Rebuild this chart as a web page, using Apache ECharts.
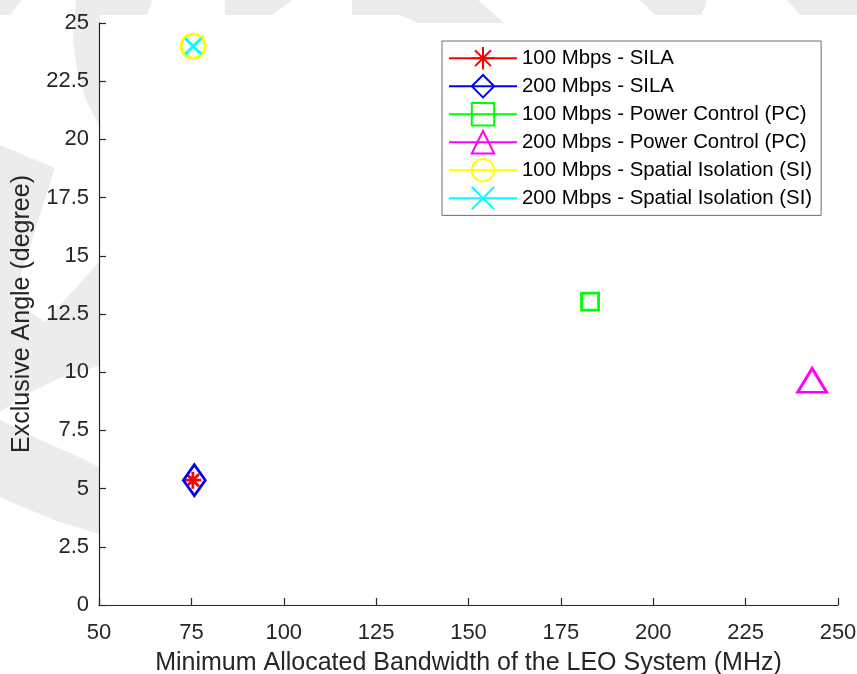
<!DOCTYPE html>
<html>
<head>
<meta charset="utf-8">
<script src="https://cdn.jsdelivr.net/npm/echarts@6/dist/echarts.min.js"></script>
<style>
  html, body { margin: 0; padding: 0; background: #fff; }
  #chart { width: 857px; height: 674px; }
</style>
</head>
<body>
<div id="chart"></div>
<script>
// Series names, in plotting order
const seriesNames = [
  '100 Mbps - SILA',
  '200 Mbps - SILA',
  '100 Mbps - Power Control (PC)',
  '200 Mbps - Power Control (PC)',
  '100 Mbps - Spatial Isolation (SI)',
  '200 Mbps - Spatial Isolation (SI)'
];
// Minimum allocated bandwidth (MHz) for each scheme
const bandwidthMHz = [75.4, 75.8, 182.9, 243.0, 75.5, 75.5];
// Exclusive angle (degree) for each scheme
const exclusiveAngle = [5.36, 5.36, 13.03, 9.65, 24.0, 24.0];
// Axis tick values
const xTicks = [50, 75, 100, 125, 150, 175, 200, 225, 250];
const yTicks = [0, 2.5, 5, 7.5, 10, 12.5, 15, 17.5, 20, 22.5, 25];

// Marker appearance per series
const colors = ['#ff0000', '#0000ff', '#00ff00', '#ff00ff', '#ffff00', '#00ffff'];
const STAR = 'path://M0,-10L0,10M-10,0L10,0M-7.1,-7.1L7.1,7.1M-7.1,7.1L7.1,-7.1';
const CROSS = 'path://M-10,-10L10,10M-10,10L10,-10';
const symbols = [STAR, 'diamond', 'rect', 'triangle', 'circle', CROSS];
const symbolSizes = [17, [22, 31], 17, [29, 24], 24, 16];

const textColor = '#262626';
const FONT = 'Liberation Sans, Arial, Helvetica, sans-serif';
const shade = '#ececec';

const series = seriesNames.map((name, i) => ({
  name: name,
  type: 'line',
  data: [[bandwidthMHz[i], exclusiveAngle[i]]],
  symbol: symbols[i],
  symbolSize: symbolSizes[i],
  showSymbol: true,
  lineStyle: { color: colors[i], width: 2.5 },
  itemStyle: { color: 'rgba(0,0,0,0)', borderColor: colors[i], borderWidth: 2.8 },
  emphasis: { disabled: true },
  z: 2 + i
}));

// faint background emblem behind the axes
function poly(points) {
  return { type: 'polygon', z: -10, silent: true, shape: { points: points }, style: { fill: shade } };
}
const emblem = [
  poly([[0, 0], [22, 0], [10, 15], [0, 15]]),
  poly([[76, 0], [153, 0], [147, 15], [100, 15], [99, 125], [86, 100], [77, 70], [73, 40]]),
  poly([[225, 0], [292, 0], [272, 15], [225, 15]]),
  poly([[352, 0], [478, 0], [504, 23], [418, 23], [400, 15], [352, 15]]),
  poly([[640, 0], [707, 0], [702, 15], [655, 15]]),
  poly([[787, 0], [857, 0], [857, 15], [800, 15]]),
  poly([[0, 145], [55, 168], [40, 215], [25, 262], [12, 300], [45, 322], [99, 262], [99, 366], [60, 378], [25, 395], [0, 412]]),
  poly([[0, 420], [40, 440], [75, 455], [99, 467], [99, 534], [60, 522], [25, 508], [0, 497]])
];

const chart = echarts.init(document.getElementById('chart'), null, { renderer: 'canvas' });
chart.setOption({
  animation: false,
  backgroundColor: '#ffffff',
  textStyle: { fontFamily: FONT },
  graphic: { elements: emblem },
  grid: {
    left: 99, right: 19, top: 23, bottom: 69,
    outerBoundsMode: 'none',
    containLabel: false,
    show: true, backgroundColor: '#ffffff', borderWidth: 0
  },
  xAxis: {
    type: 'value',
    min: xTicks[0], max: xTicks[xTicks.length - 1], interval: xTicks[1] - xTicks[0],
    name: 'Minimum Allocated Bandwidth of the LEO System (MHz)',
    nameLocation: 'middle', nameGap: 46,
    nameTextStyle: { fontSize: 25, color: textColor, fontFamily: FONT },
    axisLine: { show: true, onZero: false, lineStyle: { color: textColor, width: 1.2 } },
    axisTick: { show: true, inside: true, length: 7, lineStyle: { color: textColor, width: 1.2 } },
    axisLabel: { fontSize: 22, color: textColor, margin: 17, fontFamily: FONT },
    splitLine: { show: false }
  },
  yAxis: {
    type: 'value',
    min: yTicks[0], max: yTicks[yTicks.length - 1], interval: yTicks[1] - yTicks[0],
    name: 'Exclusive Angle (degree)',
    nameLocation: 'middle', nameGap: 64,
    nameTextStyle: { fontSize: 25, color: textColor, fontFamily: FONT },
    axisLine: { show: true, onZero: false, lineStyle: { color: textColor, width: 1.2 } },
    axisTick: { show: true, inside: true, length: 7, lineStyle: { color: textColor, width: 1.2 } },
    axisLabel: { fontSize: 22, color: textColor, margin: 10, fontFamily: FONT },
    splitLine: { show: false }
  },
  legend: {
    data: seriesNames,
    orient: 'vertical',
    left: 442, top: 41,
    width: 379,
    padding: [5, 9, 5, 6],
    itemWidth: 68, itemHeight: 28, itemGap: 3.6,
    backgroundColor: '#ffffff',
    borderColor: '#6e6e6e', borderWidth: 1, borderRadius: 0,
    textStyle: { fontSize: 20.4, color: '#000000', fontFamily: FONT },
    selectedMode: false
  },
  series: series
});
</script>
</body>
</html>
